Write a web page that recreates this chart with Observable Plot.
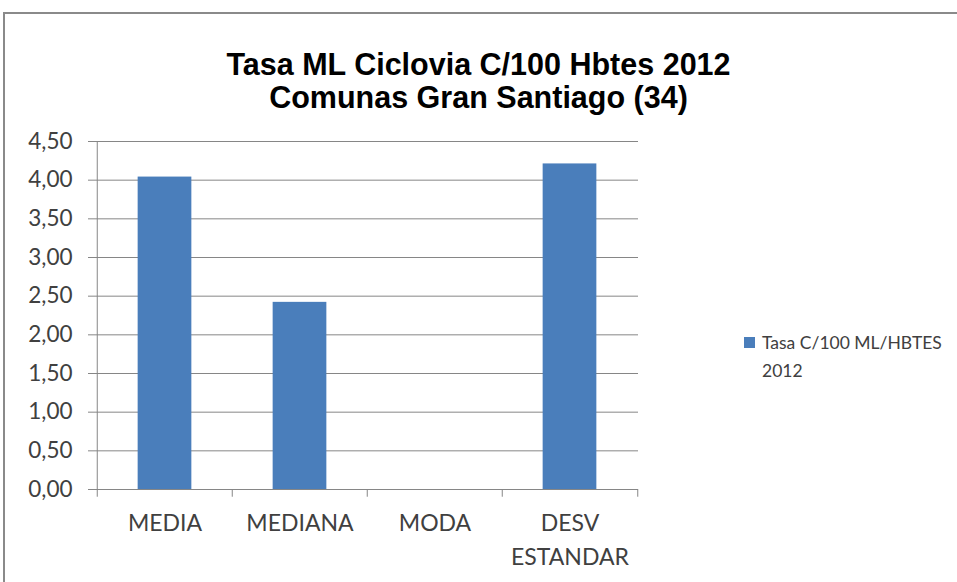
<!DOCTYPE html>
<html><head><meta charset="utf-8">
<script src="https://cdn.jsdelivr.net/npm/d3@7"></script>
<script src="https://cdn.jsdelivr.net/npm/@observablehq/plot@0.6"></script>
<style>
body{margin:0;background:#fff;}
#wrap{position:relative;width:957px;height:582px;overflow:hidden;}
#frame{position:absolute;left:3px;top:12px;width:960px;height:600px;border:2px solid #8a8a8a;box-sizing:border-box;}
#title{position:absolute;left:0;top:48px;width:957px;text-align:center;font-family:"Liberation Sans",Arial,sans-serif;font-weight:bold;font-size:30.5px;line-height:33px;color:#000;}
#legend{position:absolute;left:744px;top:329px;font-family:Lato,"Open Sans",sans-serif;font-size:17.5px;line-height:28px;color:#404040;}
#legend .sw{position:absolute;left:0;top:8px;width:11px;height:11px;background:#4a7ebb;}
#legend .tx{margin-left:18px;}
#chart{position:absolute;left:0;top:0;}
</style></head>
<body>
<div id="wrap">
<div id="frame"></div>
<div id="chart"></div>
<div id="title">Tasa ML Ciclovia C/100 Hbtes 2012<br>Comunas Gran Santiago (34)</div>
<div id="legend"><div class="sw"></div><div class="tx">Tasa C/100 ML/HBTES<br>2012</div></div>
</div>
<script>
const categories = ["MEDIA", "MEDIANA", "MODA", "DESV\nESTANDAR"];
const values = [4.04, 2.42, 0, 4.21];
const yTicks = [0, 0.5, 1, 1.5, 2, 2.5, 3, 3.5, 4, 4.5];
const seriesName = "Tasa C/100 ML/HBTES 2012";

const data = categories.map((c, i) => ({cat: c, val: values[i]}));
const fmt = d => d.toFixed(2).replace(".", ",");
const W = 957, H = 582;
const mL = 96, mR = 319, mT = 141, mB = 93;
const band = (W - mL - mR) / categories.length;

const plot = Plot.plot({
  width: W, height: H,
  marginLeft: mL, marginRight: mR, marginTop: mT, marginBottom: mB,
  style: {fontFamily: "Lato, 'Open Sans', sans-serif", fontSize: "22px", color: "#404040", background: "transparent"},
  x: {domain: categories, padding: 0, label: null},
  y: {domain: [0, 4.5], label: null},
  marks: [
    Plot.ruleY(yTicks, {stroke: "#868686", strokeWidth: 1}),
    Plot.barY(data, {x: "cat", y: "val", fill: "#4a7ebb", insetLeft: band * 0.3, insetRight: band * 0.3}),
    Plot.ruleX(categories, {x: d => d, dx: -band / 2, y1: 0, y2: -0.1, stroke: "#868686"}),
    Plot.ruleX(categories.slice(-1), {x: d => d, dx: band / 2, y1: 0, y2: -0.1, stroke: "#868686"}),
    Plot.ruleX([categories[0]], {x: d => d, dx: -band / 2, y1: 0, y2: 4.5, stroke: "#868686"}),
    Plot.axisY({ticks: yTicks, tickFormat: fmt, tickSize: 8, tickPadding: 16, stroke: "#868686", fill: "#404040", fontSize: 22.5}),
    Plot.axisX({tickSize: 0, tickPadding: 18, fill: "#404040", fontSize: 23, lineHeight: 1.45})
  ]
});
document.getElementById("chart").appendChild(plot);
</script>
</body></html>
